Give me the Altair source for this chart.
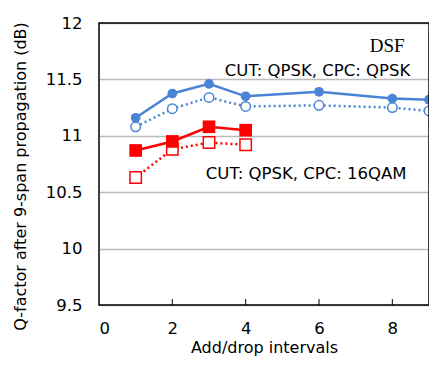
import altair as alt
import pandas as pd

x_blue = [1, 2, 3, 4, 6, 8, 9]
blue_filled = [11.16, 11.375, 11.46, 11.35, 11.39, 11.33, 11.32]
blue_open = [11.08, 11.24, 11.34, 11.26, 11.27, 11.25, 11.22]
x_red = [1, 2, 3, 4]
red_filled = [10.87, 10.95, 11.08, 11.05]
red_open = [10.63, 10.88, 10.94, 10.92]
x_ticks = [0, 2, 4, 6, 8]
y_ticks = [9.5, 10, 10.5, 11, 11.5, 12]

BLUE = "#4a84d6"
RED = "#ff0000"
W, H = 330, 282

def df(xs, ys):
    return pd.DataFrame({"x": xs, "y": ys})

xscale = alt.Scale(domain=[0, 9], nice=False)
yscale = alt.Scale(domain=[9.5, 12], nice=False)
xaxis = alt.Axis(title="Add/drop intervals", values=x_ticks, grid=False,
                 ticks=False, domain=False, labelFontSize=16.5,
                 labelFont="DejaVu Sans", labelColor="#000", labelPadding=15,
                 titleFont="DejaVu Sans", titleFontSize=16, titleFontWeight="normal",
                 titleColor="#000", titlePadding=3)
yaxis = alt.Axis(title="Q-factor after 9-span propagation (dB)", values=y_ticks,
                 format=".3~f", grid=True, gridColor="#bbbbbb", gridWidth=1.5,
                 ticks=False, domain=False, labelFontSize=16.5, labelFont="DejaVu Sans",
                 labelColor="#000", labelPadding=17,
                 titleFont="DejaVu Sans", titleFontSize=16, titleFontWeight="normal",
                 titleColor="#000", titlePadding=17, titleY=153)

enc = dict(x=alt.X("x:Q", scale=xscale, axis=xaxis), y=alt.Y("y:Q", scale=yscale, axis=yaxis))

def series(xs, ys, color, shape, filled, size, dashed):
    base = alt.Chart(df(xs, ys))
    line_kwargs = dict(color=color, strokeWidth=2.5)
    if dashed:
        line_kwargs["strokeDash"] = [2, 3]
    line = base.mark_line(**line_kwargs).encode(**enc)
    pt = base.mark_point(shape=shape, filled=filled, size=size, color=color,
                         fill=color if filled else "white", opacity=1, strokeWidth=1.5).encode(**enc)
    return [line, pt]

layers = []
layers += series(x_blue, blue_open, BLUE, "circle", False, 90, True)
layers += series(x_blue, blue_filled, BLUE, "circle", True, 95, False)
layers += series(x_red, red_open, RED, "square", False, 130, True)
layers += series(x_red, red_filled, RED, "square", True, 160, False)

ticks = alt.Chart(pd.DataFrame({"x": x_ticks[1:]})).mark_rule(color="#000", strokeWidth=1).encode(
    x=alt.X("x:Q", scale=xscale), y=alt.value(H), y2=alt.value(H - 6))

frame = alt.Chart(pd.DataFrame({"a": [0]})).mark_rect(fill=None, stroke="#000", strokeWidth=1.5).encode(
    x=alt.value(0), x2=alt.value(W), y=alt.value(0), y2=alt.value(H))

labels = pd.DataFrame({
    "x": [7.86, 5.96, 5.65],
    "y": [11.80, 11.578, 10.664],
    "t": ["DSF", "CUT: QPSK, CPC: QPSK", "CUT: QPSK, CPC: 16QAM"],
})
dsf = alt.Chart(labels.iloc[[0]]).mark_text(font="Liberation Serif", fontSize=19, color="#000").encode(
    x=alt.X("x:Q", scale=xscale), y=alt.Y("y:Q", scale=yscale), text="t:N")
anno = alt.Chart(labels.iloc[[1, 2]]).mark_text(font="DejaVu Sans", fontSize=16.5, color="#000").encode(
    x=alt.X("x:Q", scale=xscale), y=alt.Y("y:Q", scale=yscale), text="t:N")

chart = alt.layer(*layers, ticks, frame, dsf, anno).properties(
    width=W, height=H, autosize="none",
    padding={"left": 91, "top": 15, "right": 0, "bottom": 54},
).configure_view(stroke=None)

chart.save("out.html", embed_options={"renderer": "svg", "actions": False})
